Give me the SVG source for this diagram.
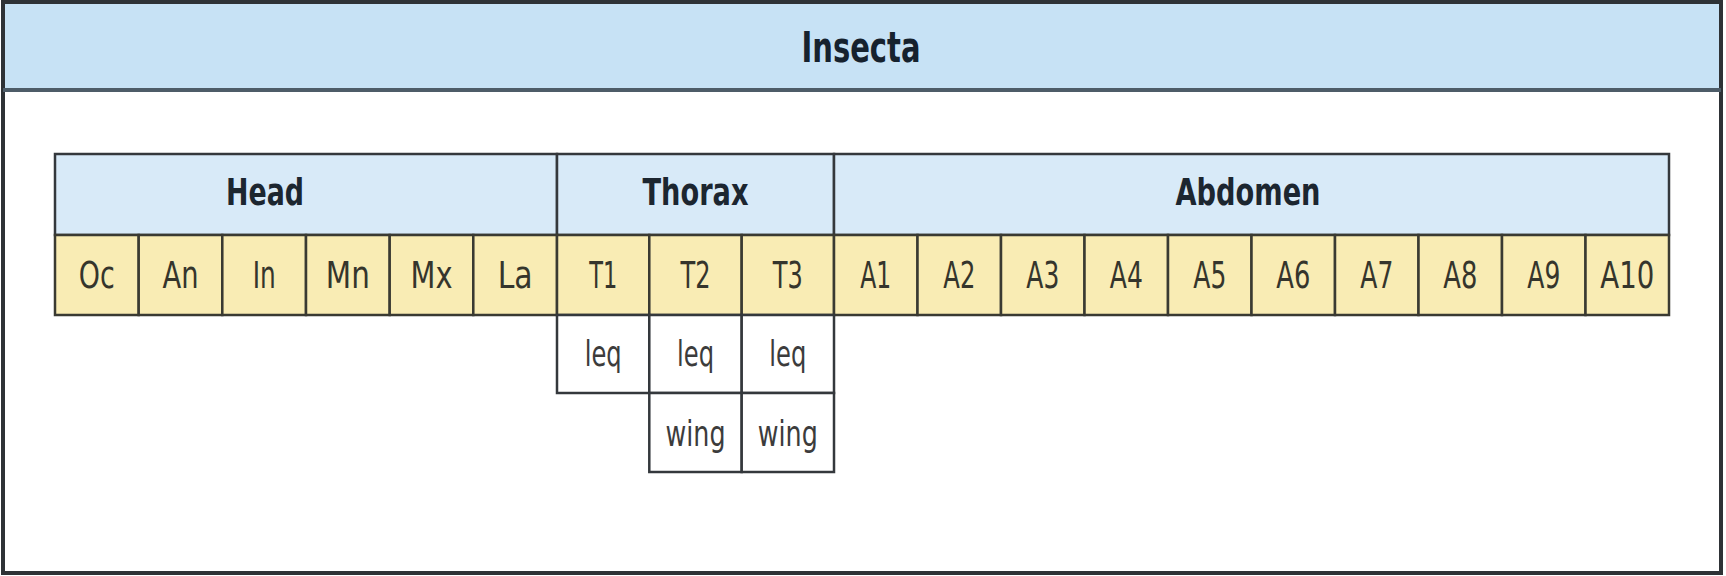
<svg xmlns="http://www.w3.org/2000/svg" width="1726" height="576" viewBox="0 0 1726 576">
<style>
  .frame{fill:#ffffff;stroke:#2e3236;stroke-width:4}
  .band{fill:#c7e2f5}
  .div{stroke:#4d5c68;stroke-width:4}
  .hdr{fill:#d8eaf8;stroke:#34383c;stroke-width:2.5}
  .seg{fill:#f9ecb4;stroke:#3a3a32;stroke-width:2.5}
  .app{fill:#ffffff;stroke:#34383c;stroke-width:2.5}
  text{font-family:"Liberation Sans Narrow","DejaVu Sans Condensed","Liberation Sans",sans-serif;text-anchor:middle}
  .title{font-size:42px;font-weight:bold;fill:#16222e}
  .htxt{font-size:38px;font-weight:bold;fill:#1c2630}
  .ctxt{font-size:37px;fill:#35352c}
  .atxt{font-size:35px;fill:#3c3c3c}
</style>
<g id="frame">
  <rect class="frame" x="3" y="2" width="1718" height="571"/>
  <rect class="band" x="5" y="4" width="1714" height="85"/>
  <line class="div" x1="3" y1="90" x2="1721" y2="90"/>
  <text class="title" x="861" y="62" textLength="119" lengthAdjust="spacingAndGlyphs">Insecta</text>
</g>
<g id="head">
  <rect class="hdr" x="55" y="154" width="502" height="81"/>
  <text class="htxt" x="265" y="205" textLength="78" lengthAdjust="spacingAndGlyphs">Head</text>
</g>
<g id="thorax">
  <rect class="hdr" x="557" y="154" width="277" height="81"/>
  <text class="htxt" x="695.5" y="205" textLength="106" lengthAdjust="spacingAndGlyphs">Thorax</text>
</g>
<g id="abdomen">
  <rect class="hdr" x="834" y="154" width="835" height="81"/>
  <text class="htxt" x="1248" y="205" textLength="145" lengthAdjust="spacingAndGlyphs">Abdomen</text>
</g>
<g id="seg-Oc"><rect class="seg" x="55" y="235" width="83.7" height="80"/><text class="ctxt" x="96.8" y="288" textLength="36" lengthAdjust="spacingAndGlyphs">Oc</text></g>
<g id="seg-An"><rect class="seg" x="138.7" y="235" width="83.6" height="80"/><text class="ctxt" x="180.5" y="288" textLength="36" lengthAdjust="spacingAndGlyphs">An</text></g>
<g id="seg-In"><rect class="seg" x="222.3" y="235" width="83.7" height="80"/><text class="ctxt" x="264.2" y="288" textLength="23" lengthAdjust="spacingAndGlyphs">In</text></g>
<g id="seg-Mn"><rect class="seg" x="306" y="235" width="83.7" height="80"/><text class="ctxt" x="347.8" y="288" textLength="44" lengthAdjust="spacingAndGlyphs">Mn</text></g>
<g id="seg-Mx"><rect class="seg" x="389.7" y="235" width="83.6" height="80"/><text class="ctxt" x="431.5" y="288" textLength="42" lengthAdjust="spacingAndGlyphs">Mx</text></g>
<g id="seg-La"><rect class="seg" x="473.3" y="235" width="83.7" height="80"/><text class="ctxt" x="515.2" y="288" textLength="35" lengthAdjust="spacingAndGlyphs">La</text></g>
<g id="seg-T1"><rect class="seg" x="557" y="235" width="92.3" height="80"/><text class="ctxt" x="603.2" y="288" textLength="28" lengthAdjust="spacingAndGlyphs">T1</text></g>
<g id="seg-T2"><rect class="seg" x="649.3" y="235" width="92.4" height="80"/><text class="ctxt" x="695.5" y="288" textLength="30" lengthAdjust="spacingAndGlyphs">T2</text></g>
<g id="seg-T3"><rect class="seg" x="741.7" y="235" width="92.3" height="80"/><text class="ctxt" x="787.8" y="288" textLength="30" lengthAdjust="spacingAndGlyphs">T3</text></g>
<g id="seg-A1"><rect class="seg" x="834" y="235" width="83.5" height="80"/><text class="ctxt" x="875.8" y="288" textLength="31" lengthAdjust="spacingAndGlyphs">A1</text></g>
<g id="seg-A2"><rect class="seg" x="917.5" y="235" width="83.5" height="80"/><text class="ctxt" x="959.3" y="288" textLength="32" lengthAdjust="spacingAndGlyphs">A2</text></g>
<g id="seg-A3"><rect class="seg" x="1001" y="235" width="83.5" height="80"/><text class="ctxt" x="1042.8" y="288" textLength="33" lengthAdjust="spacingAndGlyphs">A3</text></g>
<g id="seg-A4"><rect class="seg" x="1084.5" y="235" width="83.5" height="80"/><text class="ctxt" x="1126.3" y="288" textLength="33" lengthAdjust="spacingAndGlyphs">A4</text></g>
<g id="seg-A5"><rect class="seg" x="1168" y="235" width="83.5" height="80"/><text class="ctxt" x="1209.8" y="288" textLength="33" lengthAdjust="spacingAndGlyphs">A5</text></g>
<g id="seg-A6"><rect class="seg" x="1251.5" y="235" width="83.5" height="80"/><text class="ctxt" x="1293.3" y="288" textLength="34" lengthAdjust="spacingAndGlyphs">A6</text></g>
<g id="seg-A7"><rect class="seg" x="1335" y="235" width="83.5" height="80"/><text class="ctxt" x="1376.8" y="288" textLength="33" lengthAdjust="spacingAndGlyphs">A7</text></g>
<g id="seg-A8"><rect class="seg" x="1418.5" y="235" width="83.5" height="80"/><text class="ctxt" x="1460.3" y="288" textLength="34" lengthAdjust="spacingAndGlyphs">A8</text></g>
<g id="seg-A9"><rect class="seg" x="1502" y="235" width="83.5" height="80"/><text class="ctxt" x="1543.8" y="288" textLength="33" lengthAdjust="spacingAndGlyphs">A9</text></g>
<g id="seg-A10"><rect class="seg" x="1585.5" y="235" width="83.5" height="80"/><text class="ctxt" x="1627.3" y="288" textLength="54" lengthAdjust="spacingAndGlyphs">A10</text></g>
<g id="leg-T1"><rect class="app" x="557" y="315" width="92.3" height="78"/><text class="atxt" x="603.2" y="366" textLength="37" lengthAdjust="spacingAndGlyphs">leq</text></g>
<g id="leg-T2"><rect class="app" x="649.3" y="315" width="92.4" height="78"/><text class="atxt" x="695.5" y="366" textLength="37" lengthAdjust="spacingAndGlyphs">leq</text></g>
<g id="leg-T3"><rect class="app" x="741.7" y="315" width="92.3" height="78"/><text class="atxt" x="787.8" y="366" textLength="37" lengthAdjust="spacingAndGlyphs">leq</text></g>
<g id="wing-T2"><rect class="app" x="649.3" y="393" width="92.4" height="79"/><text class="atxt" x="695.5" y="446" textLength="60" lengthAdjust="spacingAndGlyphs">wing</text></g>
<g id="wing-T3"><rect class="app" x="741.7" y="393" width="92.3" height="79"/><text class="atxt" x="787.8" y="446" textLength="60" lengthAdjust="spacingAndGlyphs">wing</text></g>
<g id="connectors"></g>
</svg>
